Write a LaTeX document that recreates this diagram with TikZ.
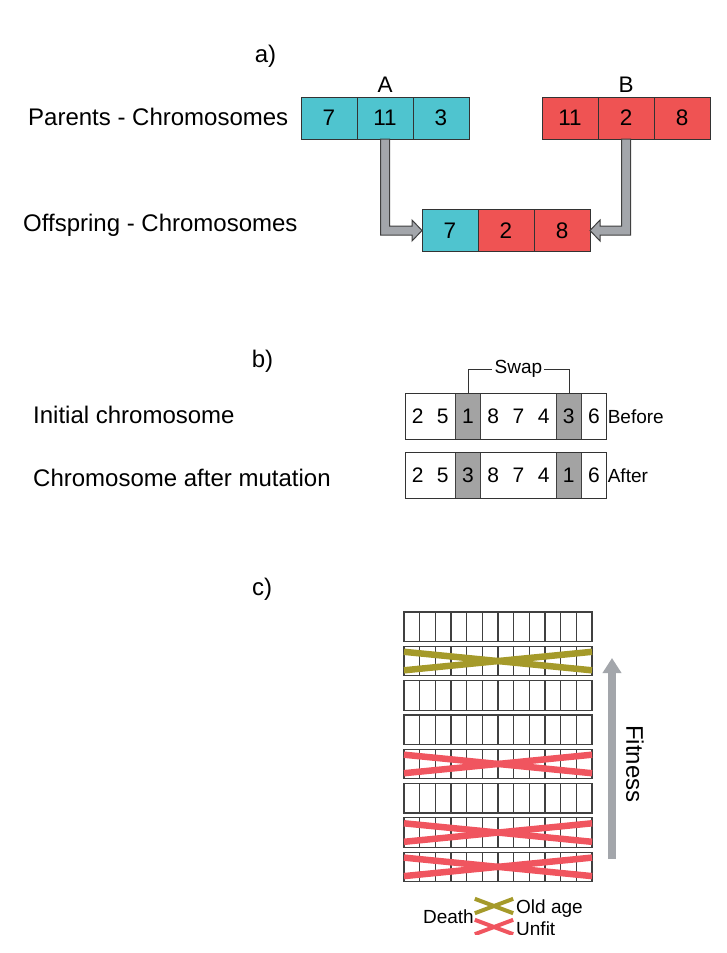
\documentclass[tikz,border=0pt]{standalone}
\usepackage{fontspec}
\setmainfont{Liberation Sans}
\usetikzlibrary{positioning,calc,arrows.meta}

\definecolor{parentA}{RGB}{79,196,207}
\definecolor{parentB}{RGB}{239,83,83}
\definecolor{swapgray}{RGB}{163,163,163}
\definecolor{arrowgray}{RGB}{163,166,171}
\definecolor{oldage}{RGB}{165,154,42}
\definecolor{unfit}{RGB}{240,85,95}

\newcommand{\txtbig}{\fontsize{24}{28}\selectfont}
\newcommand{\txtmid}{\fontsize{22.5}{26}\selectfont}
\newcommand{\txtdig}{\fontsize{21}{25}\selectfont}
\newcommand{\txtsmall}{\fontsize{19}{22}\selectfont}

\tikzset{
  gene/.style={draw=black!80, line width=1pt, minimum width=56pt, minimum height=42pt,
    inner sep=0pt, outer sep=0pt, font=\txtmid},
  genecell/.style={minimum width=25.2pt, minimum height=46pt, inner sep=0pt,
    outer sep=0pt, font=\txtdig},
  swapcell/.style={genecell, fill=swapgray, draw=black!75, line width=1pt},
  label/.style={anchor=base west, inner sep=0pt, font=\txtbig},
  fatarrow/.style={fill=arrowgray, draw=black!75, line width=1pt},
  rowbox/.style={draw=black!75, line width=1.2pt, minimum width=188pt,
    minimum height=29.5pt, inner sep=0pt, outer sep=0pt},
  cellline/.style={draw=black!75, line width=1.2pt},
  deathx/.style={line width=6.5pt},
  legendx/.style={line width=4pt}
}

\begin{document}
\begin{tikzpicture}[x=1pt,y=-1pt]
	\useasboundingbox (0,0) rectangle (727,953);

	% a) crossover
	\node[font=\txtbig, inner sep=0pt, anchor=base] (parta) at (265.5,62) {a)};
	\node[label] (parents) at (28,125) {Parents - Chromosomes};
	\node[label] (offspring) at (23,231) {Offspring - Chromosomes};

	\node[gene, fill=parentA] (a1) at (329,118) {7};
	\node[gene, fill=parentA, right=0pt of a1] (a2) {11};
	\node[gene, fill=parentA, right=0pt of a2] (a3) {3};
	\node[gene, fill=parentB] (b1) at (570,118) {11};
	\node[gene, fill=parentB, right=0pt of b1] (b2) {2};
	\node[gene, fill=parentB, right=0pt of b2] (b3) {8};
	\node[anchor=south, inner sep=0pt, font=\txtmid] (nameA) at ([yshift=4pt]a2.north) {A};
	\node[anchor=south, inner sep=0pt, font=\txtmid] (nameB) at ([yshift=4pt]b2.north) {B};

	\node[gene, fill=parentA] (o1) at (450,230.5) {7};
	\node[gene, fill=parentB, right=0pt of o1] (o2) {2};
	\node[gene, fill=parentB, right=0pt of o2] (o3) {8};

	\draw[fatarrow] ($(a2.south)+(-4.5,0)$) |- ($(o1.west)+(-10,4.5)$) -- ++(0,6)
		-- (o1.west) -- ++(-10,-10.5) -- ++(0,6) -| ($(a2.south)+(4.5,0)$) -- cycle;
	\draw[fatarrow] ($(b2.south)+(4.5,0)$) |- ($(o3.east)+(10,4.5)$) -- ++(0,6)
		-- (o3.east) -- ++(10,-10.5) -- ++(0,6) -| ($(b2.south)+(-4.5,0)$) -- cycle;

	% b) mutation
	\node[font=\txtbig, inner sep=0pt, anchor=base] (partb) at (262.5,367) {b)};
	\node[label] (initial) at (33,423) {Initial chromosome};
	\node[label] (mutated) at (33,486) {Chromosome after mutation};

	\foreach \g/\s [count=\i] in {2/genecell,5/genecell,1/swapcell,8/genecell,7/genecell,4/genecell,3/swapcell,6/genecell}
		\node[\s] (bb\i) at ({392.4+25.2*\i},416.5) {\g};
	\foreach \g/\s [count=\i] in {2/genecell,5/genecell,3/swapcell,8/genecell,7/genecell,4/genecell,1/swapcell,6/genecell}
		\node[\s] (ba\i) at ({392.4+25.2*\i},475.5) {\g};
	\draw[line width=1pt, black!80] (bb1.north west) rectangle (bb8.south east);
	\draw[line width=1pt, black!80] (ba1.north west) rectangle (ba8.south east);

	\node[font=\txtsmall, inner sep=2pt] (swap) at (518.4,369) {Swap};
	\draw[black!80] (bb3.north) |- (swap.west);
	\draw[black!80] (bb7.north) |- (swap.east);
	\node[anchor=west, inner sep=1pt, font=\txtsmall] (before) at (bb8.east) {Before};
	\node[anchor=west, inner sep=1pt, font=\txtsmall] (after) at (ba8.east) {After};

	% c) population
	\node[font=\txtbig, inner sep=0pt, anchor=base] (partc) at (262,595) {c)};
	\foreach \r in {0,...,7} {
		\node[rowbox] (row\r) at (498,{626.75+34.3*\r}) {};
		\foreach \c in {1,...,11}
			\draw[cellline] ($(row\r.north west)+(15.667*\c,0)$) -- ($(row\r.south west)+(15.667*\c,0)$);
	}
	\foreach \r/\col in {1/oldage,4/unfit,6/unfit,7/unfit} {
		\draw[deathx, \col] ($(row\r.north west)+(0,5.5)$) -- ($(row\r.south east)+(0,-5.5)$);
		\draw[deathx, \col] ($(row\r.south west)+(0,-5.5)$) -- ($(row\r.north east)+(0,5.5)$);
	}

	\coordinate (fitlow) at (612,859);
	\coordinate (fithigh) at (612,658);
	\draw[arrowgray, line width=8pt, -{Triangle[width=18pt,length=15pt]}] (fitlow) -- (fithigh);
	\node[rotate=-90, inner sep=0pt, font=\txtbig] (fitness) at (635,764) {Fitness};

	% legend, cut off at the bottom as in the source
	\begin{scope}
		\clip (400,885) rectangle (620,934);
		\node[anchor=base east, inner sep=0pt, font=\txtsmall] (death) at (474,923) {Death};
		\node[minimum width=38pt, minimum height=14pt, inner sep=0pt] (oldx) at (494,906) {};
		\node[minimum width=38pt, minimum height=14pt, inner sep=0pt] (unfitx) at (494,927) {};
		\draw[legendx, oldage] (oldx.north west) -- (oldx.south east);
		\draw[legendx, oldage] (oldx.south west) -- (oldx.north east);
		\draw[legendx, unfit] (unfitx.north west) -- (unfitx.south east);
		\draw[legendx, unfit] (unfitx.south west) -- (unfitx.north east);
		\node[anchor=base west, inner sep=0pt, font=\txtsmall] (oldlbl) at (516,913) {Old age};
		\node[anchor=base west, inner sep=0pt, font=\txtsmall] (unfitlbl) at (516,935) {Unfit};
	\end{scope}
\end{tikzpicture}
\end{document}
